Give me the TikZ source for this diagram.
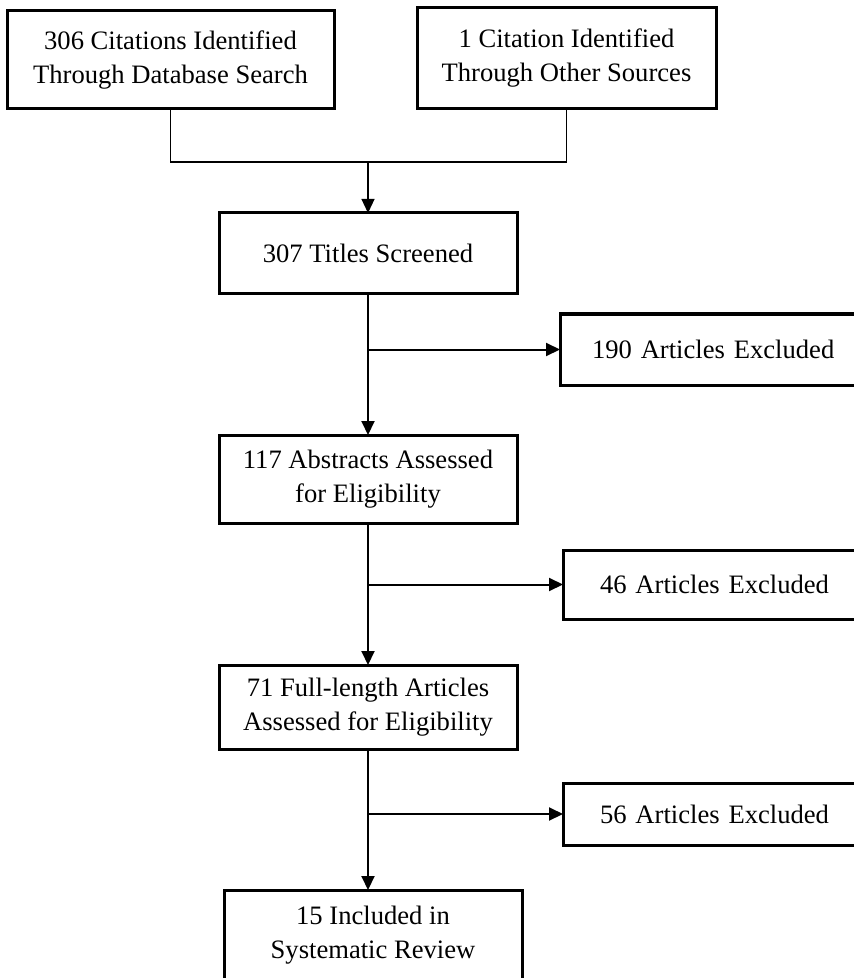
\documentclass[tikz,border=0pt]{standalone}
\usepackage{fontspec}
\setmainfont{Liberation Serif}
\usetikzlibrary{arrows.meta, positioning}

\tikzset{
  stagebox/.style={draw, line width=1.5pt, fill=white, inner sep=0pt, outer sep=0pt, align=center,
    font=\fontsize{13.3}{17}\selectfont},
  excludebox/.style={stagebox, anchor=west, align=left, text width=170pt, inner xsep=#1},
  flowarrow/.style={line width=1pt, -{Triangle[length=7pt, width=6.5pt]}},
}

\begin{document}
\begin{tikzpicture}[x=0.5pt, y=-0.5pt]
  \useasboundingbox (0,0) rectangle (853,978);

  % Sources
  \node[stagebox, minimum width=163.5pt, minimum height=49pt] (dbsearch) at (170.5,60) {306 Citations Identified\\Through Database Search};
  \node[stagebox, minimum width=149.5pt, minimum height=50.5pt] (othersrc) at (566.5,58.5) {1 Citation Identified\\Through Other Sources};

  % Screening stages
  \node[stagebox, minimum width=149pt, minimum height=40.5pt] (titles) at (368,253.5) {307 Titles Screened};
  \node[stagebox, minimum width=149pt, minimum height=44pt] (abstracts) at (368,479) {117 Abstracts Assessed\\for Eligibility};
  \node[stagebox, minimum width=149pt, minimum height=42pt] (fulltext) at (368,707) {71 Full-length Articles\\Assessed for Eligibility};
  \node[stagebox, minimum width=149pt, minimum height=45pt] (included) at (373,935) {15 Included in\\Systematic Review};

  % Exclusions (cut off at the right edge)
  \node[excludebox=16pt, minimum height=35.5pt] (excl1) at (560,349.5) {190 Articles Excluded};
  \node[excludebox=18.5pt, minimum height=34.5pt] (excl2) at (563,584.5) {46 Articles Excluded};
  \node[excludebox=18.5pt, minimum height=31pt] (excl3) at (563,814) {56 Articles Excluded};

  % Merge of sources
  \coordinate (merge) at (368,162);
  \draw[line width=0.8pt] (dbsearch.south) |- (merge);
  \draw[line width=0.8pt] (othersrc.south) |- (merge);
  \draw[flowarrow, line width=0.6pt] (merge) -- (titles.north);

  % Main flow and branches
  \draw[flowarrow] (titles.south) -- (abstracts.north);
  \draw[flowarrow] (titles.south |- excl1.west) -- (excl1.west);
  \draw[flowarrow] (abstracts.south) -- (fulltext.north);
  \draw[flowarrow] (abstracts.south |- excl2.west) -- (excl2.west);
  \draw[flowarrow] (fulltext.south) -- (fulltext.south |- included.north);
  \draw[flowarrow] (fulltext.south |- excl3.west) -- (excl3.west);
\end{tikzpicture}
\end{document}
